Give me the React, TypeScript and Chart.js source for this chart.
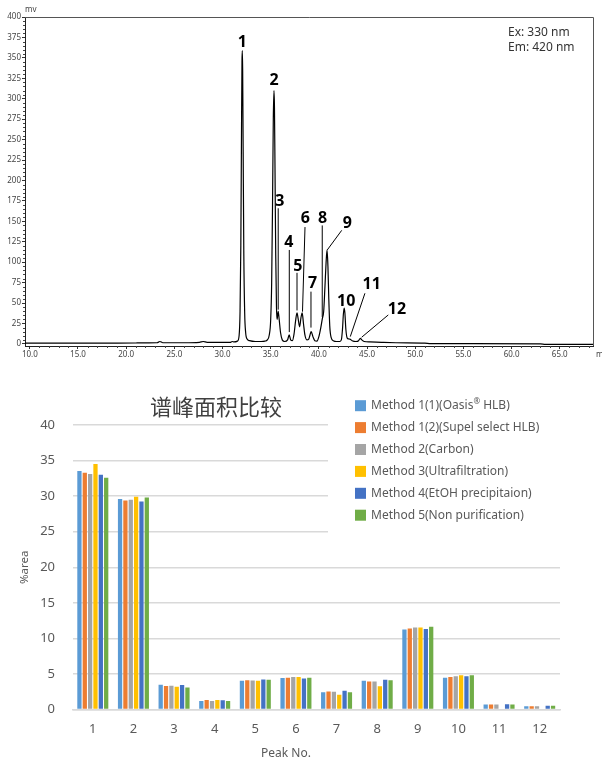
import React, { useEffect, useRef } from "react";
import { Chart, registerables } from "chart.js";

Chart.register(...registerables);

// ---------- Chromatogram (top) ----------
// [retention time (min), signal (mV)]
const chromatogram: [number, number][] = [
  [9.5, 1], [13, 1], [17, 1], [21, 1.2], [23.2, 1.5], [23.5, 3], [23.8, 1.5], [26, 1.5],
  [27.6, 2], [28.0, 3], [28.4, 2], [30.2, 2], [30.8, 2], [31.0, 3], [31.2, 2.5],
  [31.55, 3.5], [31.72, 10], [31.82, 40], [31.9, 120], [31.97, 260], [32.02, 345], [32.05, 359],
  [32.09, 335], [32.14, 240], [32.21, 110], [32.3, 38], [32.4, 14], [32.55, 6], [32.8, 4],
  [33.4, 3], [34.0, 3], [34.4, 3.5], [34.65, 5], [34.85, 11], [35.0, 30], [35.1, 75],
  [35.19, 170], [35.27, 275], [35.34, 310], [35.39, 290], [35.45, 210], [35.52, 110],
  [35.6, 45], [35.66, 30], [35.78, 40], [35.88, 30], [36.02, 14], [36.2, 5], [36.45, 3],
  [36.75, 5], [36.92, 11], [37.07, 5], [37.25, 4], [37.42, 12], [37.58, 28], [37.73, 38],
  [37.86, 30], [38.0, 21], [38.14, 32], [38.27, 38], [38.4, 25], [38.55, 11], [38.75, 5],
  [38.95, 6], [39.08, 11], [39.2, 15], [39.38, 9], [39.58, 4], [39.8, 3.5], [40.0, 9],
  [40.2, 20], [40.36, 31], [40.5, 40], [40.63, 70], [40.75, 100], [40.85, 115], [40.94, 95],
  [41.03, 55], [41.13, 22], [41.27, 8], [41.5, 4], [41.85, 3], [42.15, 3], [42.33, 5],
  [42.45, 18], [42.54, 36], [42.62, 44], [42.7, 38], [42.8, 18], [42.95, 7], [43.2, 6],
  [43.45, 4], [43.85, 3], [44.12, 4], [44.3, 7], [44.45, 5], [44.7, 3], [45.3, 2.5],
  [46.5, 2], [48, 1.5], [51, 1], [51.6, 0.5], [56, 0.5], [63, 0.2], [63.5, -0.5], [68.5, -0.5],
];

const chromXTicks = [10, 15, 20, 25, 30, 35, 40, 45, 50, 55, 60, 65];
const chromYTicks = [0, 25, 50, 75, 100, 125, 150, 175, 200, 225, 250, 275, 300, 325, 350, 375, 400];

const peakLabels = ["1", "2", "3", "4", "5", "6", "7", "8", "9", "10", "11", "12"];
const peakLabelTime = [32.05, 35.36, 35.96, 36.88, 37.81, 38.59, 39.34, 40.39, 42.94, 42.84, 45.48, 48.1];
const peakLabelMv = [369, 322, 174, 124, 95, 154, 74, 154, 147, 52.6, 72.7, 42];
// leader lines: [fromTime, fromMv, toTime, toMv] (null = none)
const peakLeaders: ([number, number, number, number] | null)[] = [
  null, null,
  [35.78, 166, 35.78, 42],
  [36.93, 115, 36.93, 14.5],
  [37.73, 87, 37.73, 41],
  [38.56, 143, 38.3, 39.5],
  [39.18, 64, 39.18, 20],
  [40.35, 145, 40.35, 33],
  [42.37, 139, 40.87, 115],
  null,
  [44.78, 62, 43.26, 9],
  [47.2, 35.5, 44.44, 8.2],
];

const chromYUnit = "mv";
const chromXUnit = "min";
const chromNotes = ["Ex: 330 nm", "Em: 420 nm"];

// ---------- Bar chart (bottom) ----------
const barTitle = "谱峰面积比较";
const peakNos = ["1", "2", "3", "4", "5", "6", "7", "8", "9", "10", "11", "12"];
const methodNames = [
  "Method 1(1)(Oasis® HLB)",
  "Method 1(2)(Supel select HLB)",
  "Method 2(Carbon)",
  "Method 3(Ultrafiltration)",
  "Method 4(EtOH precipitaion)",
  "Method 5(Non purification)",
];
const methodColors = ["#5B9BD5", "#ED7D31", "#A5A5A5", "#FFC000", "#4472C4", "#70AD47"];
const method1_1 = [33.55, 29.6, 3.48, 1.2, 4.04, 4.42, 2.44, 4.04, 11.25, 4.48, 0.71, 0.47];
const method1_2 = [33.3, 29.4, 3.3, 1.35, 4.13, 4.47, 2.53, 3.94, 11.38, 4.57, 0.71, 0.47];
const method2 = [33.1, 29.5, 3.33, 1.2, 4.08, 4.56, 2.48, 3.94, 11.52, 4.67, 0.71, 0.47];
const method3 = [34.5, 29.9, 3.19, 1.35, 4.04, 4.56, 2.06, 3.28, 11.52, 4.81, 0, 0.1];
const method4 = [33.0, 29.25, 3.43, 1.3, 4.23, 4.37, 2.62, 4.18, 11.33, 4.67, 0.75, 0.52];
const method5 = [32.6, 29.8, 3.1, 1.2, 4.18, 4.47, 2.44, 4.13, 11.62, 4.81, 0.71, 0.52];
const methodValues = [method1_1, method1_2, method2, method3, method4, method5];
const barYTitle = "%area";
const barXTitle = "Peak No.";

const SANS = "Noto Sans";

const chromOverlay = {
  id: "chromOverlay",
  beforeDatasetsDraw(chart: any) {
    const { ctx, chartArea: a, scales } = chart;
    const x = scales.x, y = scales.y;
    ctx.save();
    ctx.strokeStyle = "#555";
    ctx.lineWidth = 1;
    ctx.beginPath();
    ctx.moveTo(a.left, Math.round(a.top) + 0.5);
    ctx.lineTo(Math.round(a.right) + 0.5, Math.round(a.top) + 0.5);
    ctx.lineTo(Math.round(a.right) + 0.5, a.bottom);
    ctx.stroke();
    // minor ticks
    ctx.strokeStyle = "#444";
    ctx.beginPath();
    for (let v = 5; v < 400; v += 5) {
      if (v % 25 === 0) continue;
      const py = Math.round(y.getPixelForValue(v)) + 0.5;
      ctx.moveTo(a.left - 2, py);
      ctx.lineTo(a.left, py);
    }
    for (let t = 10; t <= 68; t += 1) {
      if (t % 5 === 0) continue;
      const px = Math.round(x.getPixelForValue(t)) + 0.5;
      ctx.moveTo(px, a.bottom);
      ctx.lineTo(px, a.bottom + 2);
    }
    ctx.stroke();
    ctx.restore();
  },
  afterDatasetsDraw(chart: any) {
    const { ctx, chartArea: a, scales } = chart;
    const x = scales.x, y = scales.y;
    ctx.save();
    ctx.strokeStyle = "#000";
    ctx.lineWidth = 1;
    peakLeaders.forEach((l) => {
      if (!l) return;
      ctx.beginPath();
      ctx.moveTo(x.getPixelForValue(l[0]), y.getPixelForValue(l[1]));
      ctx.lineTo(x.getPixelForValue(l[2]), y.getPixelForValue(l[3]));
      ctx.stroke();
    });
    ctx.fillStyle = "#000";
    ctx.font = `bold 16px "${SANS}"`;
    ctx.textAlign = "center";
    ctx.textBaseline = "middle";
    peakLabels.forEach((lab, i) => {
      ctx.fillText(lab, x.getPixelForValue(peakLabelTime[i]), y.getPixelForValue(peakLabelMv[i]));
    });
    ctx.fillStyle = "#333";
    ctx.textAlign = "left";
    ctx.font = `12px "${SANS}"`;
    chromNotes.forEach((n, i) => ctx.fillText(n, a.right - 85, a.top + 16 + i * 15));
    ctx.font = `8px "${SANS}"`;
    ctx.fillStyle = "#444";
    ctx.fillText(chromYUnit, a.left, a.top - 7);
    ctx.fillText(chromXUnit, a.right + 3, a.bottom + 9);
    ctx.restore();
  },
};

function drawLegendText(ctx: CanvasRenderingContext2D, text: string, x0: number, y0: number) {
  const parts = text.split("®");
  let cx = x0;
  parts.forEach((p, i) => {
    if (i > 0) {
      ctx.font = `8px "${SANS}"`;
      ctx.fillText("®", cx, y0 - 4);
      cx += ctx.measureText("®").width;
    }
    ctx.font = `12px "${SANS}"`;
    ctx.fillText(p, cx, y0);
    cx += ctx.measureText(p).width;
  });
}

const barOverlay = {
  id: "barOverlay",
  afterDraw(chart: any) {
    const { ctx } = chart;
    ctx.save();
    ctx.fillStyle = "#fff";
    ctx.fillRect(328, 14, 236, 162);
    ctx.textBaseline = "middle";
    ctx.textAlign = "left";
    chart.data.datasets.forEach((ds: any, i: number) => {
      const yy = 40.7 + i * 21.9;
      ctx.fillStyle = ds.backgroundColor;
      ctx.fillRect(355, yy - 5.5, 11, 11);
      ctx.fillStyle = "#595959";
      drawLegendText(ctx, ds.label, 371, yy);
    });
    ctx.textAlign = "center";
    ctx.fillStyle = "#404040";
    ctx.font = `22px "Noto Sans CJK SC"`;
    ctx.fillText(barTitle, 216, 41.5);
    ctx.fillStyle = "#595959";
    ctx.font = `12px "${SANS}"`;
    ctx.fillText(barXTitle, 286, 389);
    ctx.restore();
  },
};

export default function App() {
  const topRef = useRef<HTMLCanvasElement>(null);
  const botRef = useRef<HTMLCanvasElement>(null);

  useEffect(() => {
    Chart.defaults.font.family = SANS;
    const top = new Chart(topRef.current!, {
      type: "line",
      data: {
        datasets: [
          {
            data: chromatogram.map(([t, v]) => ({ x: t, y: v })),
            borderColor: "#000",
            borderWidth: 1.2,
            pointRadius: 0,
            fill: false,
            cubicInterpolationMode: "monotone",
          } as any,
        ],
      },
      options: {
        responsive: false,
        animation: false,
        events: [],
        layout: { padding: { top: 17, right: 9, left: 0, bottom: 0 } },
        plugins: { legend: { display: false }, tooltip: { enabled: false } },
        scales: {
          x: {
            type: "linear",
            min: 9.5,
            max: 68.45,
            afterBuildTicks: (s: any) => { s.ticks = chromXTicks.map((v) => ({ value: v })); },
            afterFit: (s: any) => { s.height = 19; },
            grid: { drawOnChartArea: false, drawTicks: true, tickLength: 3, color: "#333" },
            border: { color: "#222", width: 1 },
            ticks: {
              autoSkip: false, maxRotation: 0, padding: 1, color: "#444",
              font: { size: 8 },
              callback: (v: any) => Number(v).toFixed(1),
            },
          },
          y: {
            min: -2.5,
            max: 400,
            afterBuildTicks: (s: any) => { s.ticks = chromYTicks.map((v) => ({ value: v })); },
            afterFit: (s: any) => { s.width = 25; },
            grid: { drawOnChartArea: false, drawTicks: true, tickLength: 3, color: "#333" },
            border: { color: "#222", width: 1 },
            ticks: { autoSkip: false, padding: 1, color: "#444", font: { size: 8 } },
          },
        },
      },
      plugins: [chromOverlay],
    });

    const bot = new Chart(botRef.current!, {
      type: "bar",
      data: {
        labels: peakNos,
        datasets: methodValues.map((vals, i) => ({
          label: methodNames[i],
          data: vals,
          backgroundColor: methodColors[i],
          borderWidth: 0,
          categoryPercentage: 0.79,
          barPercentage: 0.8,
        })),
      },
      options: {
        responsive: false,
        animation: false,
        events: [],
        layout: { padding: { top: 60, right: 42, left: 0, bottom: 0 } },
        plugins: { legend: { display: false }, tooltip: { enabled: false }, title: { display: false } },
        scales: {
          x: {
            grid: { display: false, drawTicks: false },
            border: { display: true, color: "#d9d9d9", width: 1.5 },
            ticks: { font: { size: 13 }, color: "#595959", padding: 12, maxRotation: 0 },
            afterFit: (s: any) => { s.height = 52.5; },
          },
          y: {
            min: 0,
            max: 40,
            ticks: { stepSize: 5, font: { size: 13 }, color: "#595959", padding: 17.5 },
            grid: { color: "#d9d9d9", lineWidth: 1.5, drawTicks: false },
            border: { display: false },
            title: {
              display: true, text: barYTitle, color: "#595959",
              font: { size: 11.5 }, padding: { top: 18, bottom: 0 },
            },
            afterFit: (s: any) => { s.width = 72.5; },
          },
        },
      },
      plugins: [barOverlay],
    });

    return () => {
      top.destroy();
      bot.destroy();
    };
  }, []);

  return (
    <div style={{ position: "absolute", left: 0, top: 0, width: 602, height: 762, background: "#fff" }}>
      <canvas ref={topRef} width={602} height={365} style={{ display: "block" }} />
      <canvas ref={botRef} width={602} height={397} style={{ display: "block" }} />
    </div>
  );
}
